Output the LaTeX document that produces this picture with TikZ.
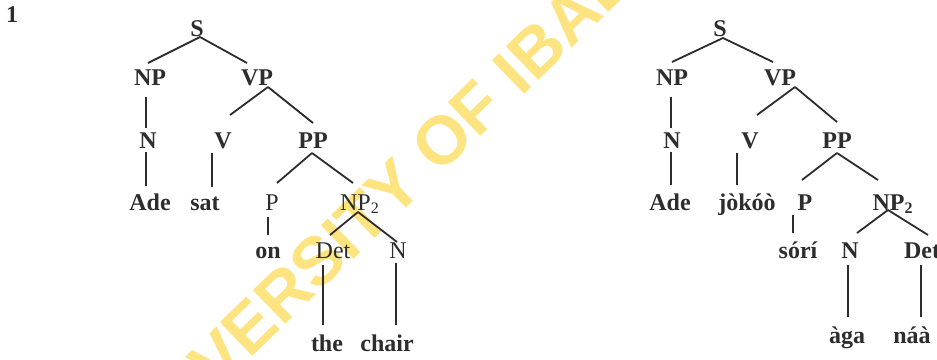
\documentclass[tikz,border=0pt]{standalone}
\usepackage{fontspec}
\setmainfont{Liberation Serif}
\newfontfamily\wmfont{Liberation Sans}
\definecolor{ink}{RGB}{45,45,45}
\definecolor{wmyellow}{RGB}{253,228,128}
\newcommand\treebr[4]{\draw[branch] ([shift={#2}]#1.center) -- ([shift={#4}]#3.center);}
\begin{document}
\begin{tikzpicture}[x=0.5pt,y=-0.5pt,
  lbl/.style={inner sep=0pt,outer sep=0pt,text height=8pt,text depth=0pt,text=ink,font=\fontsize{12}{14}\selectfont\bfseries},
  lblr/.style={lbl,font=\fontsize{12}{14}\selectfont},
  branch/.style={draw=ink,line width=0.9pt},
  wmark/.style={inner sep=0pt,text=wmyellow,rotate=44,font=\wmfont\fontsize{34}{40}\selectfont\bfseries}]
\useasboundingbox (0,0) rectangle (937,359);
\fill[white] (0,0) rectangle (937,359);
\begin{scope}
\clip (0,0) rectangle (937,359);
\node[wmark] (wm) at (406,176) {UNIVERSITY OF IBADAN};
\end{scope}

% number
\node[lbl] (num) at (12,14) {1};

% left tree
\node[lbl] (S1) at (197,28) {S};
\node[lbl] (NP1) at (150,77) {NP};
\node[lbl] (VP1) at (257,77) {VP};
\node[lbl] (N1) at (148,140) {N};
\node[lbl] (V1) at (223,140) {V};
\node[lbl] (PP1) at (313,140) {PP};
\node[lbl] (Ade1) at (150,202) {Ade};
\node[lbl] (sat1) at (205,202) {sat};
\node[lblr] (P1) at (272,202) {P};
\node[lblr] (NPtwo1) at (360,202) {NP\textsubscript{2}};
\node[lbl] (on1) at (268,250) {on};
\node[lblr] (Det1) at (333,250) {Det};
\node[lblr] (Nb1) at (398,250) {N};
\node[lbl] (the1) at (327,343) {the};
\node[lbl] (chair1) at (387,343) {chair};

\treebr{S1}{(3,9)}{NP1}{(-2,-14)}
\treebr{S1}{(3,9)}{VP1}{(-10,-14)}
\treebr{NP1}{(-4,20)}{N1}{(-2,-12)}
\treebr{VP1}{(11,10)}{V1}{(7,-25)}
\treebr{VP1}{(11,10)}{PP1}{(0,-17)}
\treebr{N1}{(-2,12)}{Ade1}{(-4,-16)}
\treebr{V1}{(-11,13)}{sat1}{(7,-15)}
\treebr{PP1}{(-1,13)}{P1}{(5,-19)}
\treebr{PP1}{(-1,13)}{NPtwo1}{(-7,-19)}
\treebr{P1}{(-4,15)}{on1}{(0,-15)}
\treebr{NPtwo1}{(-2,10)}{Det1}{(-3,-15)}
\treebr{NPtwo1}{(-2,10)}{Nb1}{(-1,-8)}
\treebr{Det1}{(-10,15)}{the1}{(-4,-18)}
\treebr{Nb1}{(-2,13)}{chair1}{(9,-18)}

% right tree
\node[lbl] (S2) at (720,28) {S};
\node[lbl] (NP2) at (672,77) {NP};
\node[lbl] (VP2) at (780,77) {VP};
\node[lbl] (N2) at (672,140) {N};
\node[lbl] (V2) at (750,140) {V};
\node[lbl] (PP2) at (837,140) {PP};
\node[lbl] (Ade2) at (670,202) {Ade};
\node[lbl] (jokoo2) at (747,202) {jòkóò};
\node[lbl] (P2) at (805,202) {P};
\node[lbl] (NPtwo2) at (893,202) {NP\textsubscript{2}};
\node[lbl] (sori2) at (798,250) {sórí};
\node[lbl] (Nb2) at (850,250) {N};
\node[lbl] (Det2) at (922,250) {Det};
\node[lbl] (aga2) at (847,335) {àga};
\node[lbl] (naa2) at (912,335) {náà};

\treebr{S2}{(3,10)}{NP2}{(0,-15)}
\treebr{S2}{(3,10)}{VP2}{(-7,-15)}
\treebr{NP2}{(-1,20)}{N2}{(-1,-12)}
\treebr{VP2}{(15,10)}{V2}{(7,-25)}
\treebr{VP2}{(15,10)}{PP2}{(0,-18)}
\treebr{N2}{(-1,12)}{Ade2}{(1,-17)}
\treebr{V2}{(-13,13)}{jokoo2}{(-10,-17)}
\treebr{PP2}{(0,13)}{P2}{(-3,-22)}
\treebr{PP2}{(0,13)}{NPtwo2}{(-15,-22)}
\treebr{P2}{(-12,13)}{sori2}{(-5,-17)}
\treebr{NPtwo2}{(-5,8)}{Nb2}{(7,-17)}
\treebr{NPtwo2}{(-5,8)}{Det2}{(6,-15)}
\treebr{Nb2}{(-2,15)}{aga2}{(1,-18)}
\treebr{Det2}{(-1,15)}{naa2}{(9,-18)}
\end{tikzpicture}
\end{document}
